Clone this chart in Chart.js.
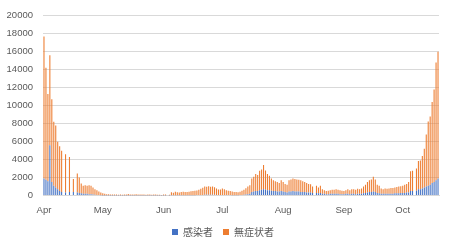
<!DOCTYPE html>
<html>
<head>
<meta charset="utf-8">
<script src="https://cdn.jsdelivr.net/npm/chart.js@4.4.1/dist/chart.umd.min.js"></script>
<style>
  html, body { margin: 0; padding: 0; background: #fff; }
  #wrap { width: 451px; height: 249px; position: relative; }
</style>
</head>
<body>
<div id="wrap"><canvas id="chart"></canvas></div>
<script>
// Daily counts, Apr 1 – Oct 19 (0 = no report that day)
const monthNames = ["Apr", "May", "Jun", "Jul", "Aug", "Sep", "Oct"];
const monthDays  = [30, 31, 30, 31, 31, 30, 19];

// 感染者
const aprInfected = [1900,1750,1600,5600,1500,1100,900,700,500,400,0,350,0,400,0,400,0,350,300,250,200,200,200,150,150,120,100,80,60,50];
const mayInfected = [20,20,15,15,10,10,10,10,10,10,10,10,10,15,10,10,10,10,10,10,10,10,10,10,10,10,10,10,10,10,10];
const junInfected = [10,10,0,10,30,30,40,30,30,40,40,40,40,40,50,50,50,60,60,70,80,90,90,100,90,100,90,80,70,70];
const julInfected = [80,80,70,60,60,50,50,50,50,60,80,100,130,150,200,400,450,500,500,600,650,700,650,600,600,550,500,500,450,450,500];
const augInfected = [450,400,350,450,450,500,450,450,450,400,400,400,350,350,350,300,0,300,250,300,200,200,150,150,200,200,200,200,200,150,150];
const sepInfected = [150,200,200,150,200,200,150,200,200,200,250,300,350,400,400,450,400,300,250,200,200,200,200,200,200,200,250,250,250,300];
const octInfected = [300,300,350,350,500,500,0,550,700,700,800,900,1000,1100,1200,1400,1500,1700,1900];

// 無症状者
const aprAsymptomatic = [15800,12450,9700,10000,9200,7100,6900,5300,5000,4600,0,4250,0,3900,0,1450,0,2100,1700,1100,900,950,900,1000,950,780,600,520,390,300];
const mayAsymptomatic = [230,180,140,130,110,100,110,100,90,100,90,110,120,150,110,120,100,130,110,100,120,100,90,110,100,90,100,110,90,80,70];
const junAsymptomatic = [120,100,0,90,330,300,380,350,320,360,380,350,370,400,420,450,480,520,600,680,800,910,900,950,900,920,850,700,600,600];
const julAsymptomatic = [720,620,530,490,440,400,360,340,320,360,450,560,700,850,950,1500,1650,1900,1800,2150,2250,2700,2150,1800,1600,1350,1200,1100,1050,950,1200];
const augAsymptomatic = [1050,900,850,1250,1350,1400,1400,1350,1300,1300,1200,1100,1050,950,900,700,0,800,650,800,500,400,350,400,400,450,450,500,450,450,400];
const sepAsymptomatic = [350,400,500,450,500,500,500,550,500,600,750,900,1150,1300,1400,1650,1400,900,850,600,500,600,550,600,650,650,650,700,750,750];
const octAsymptomatic = [800,900,950,1150,2200,2250,0,2450,3150,3200,3600,4300,5800,7150,7600,9000,10300,13100,14100];

const infected = [].concat(aprInfected, mayInfected, junInfected, julInfected, augInfected, sepInfected, octInfected);
const asymptomatic = [].concat(aprAsymptomatic, mayAsymptomatic, junAsymptomatic, julAsymptomatic, augAsymptomatic, sepAsymptomatic, octAsymptomatic);

// category labels: one per day, month name shown on day 1
const labels = [];
monthNames.forEach((m, i) => {
  for (let d = 1; d <= monthDays[i]; d++) labels.push(m + " " + d);
});

const GREY_TEXT = "#595959";
const GRID = "#d9d9d9";

new Chart(document.getElementById("chart"), {
  type: "bar",
  data: {
    labels: labels,
    datasets: [
      {
        label: "感染者",
        data: infected,
        backgroundColor: "#4472c4",
        barPercentage: 0.55,
        categoryPercentage: 1.0
      },
      {
        label: "無症状者",
        data: asymptomatic,
        backgroundColor: "#ed7d31",
        barPercentage: 0.55,
        categoryPercentage: 1.0
      }
    ]
  },
  options: {
    responsive: true,
    maintainAspectRatio: false,
    animation: false,
    layout: { padding: { left: 7, right: 12, top: 8, bottom: 2 } },
    scales: {
      x: {
        stacked: true,
        grid: { display: false },
        border: { color: GRID },
        ticks: {
          autoSkip: false,
          maxRotation: 0,
          minRotation: 0,
          padding: 1,
          color: GREY_TEXT,
          font: { family: "Liberation Sans", size: 9.5 },
          callback: function (value) {
            const l = labels[value];
            return l.endsWith(" 1") ? l.split(" ")[0] : "";
          }
        }
      },
      y: {
        stacked: true,
        min: 0,
        max: 20000,
        afterFit: scale => { scale.width = 36; },
        ticks: {
          stepSize: 2000,
          padding: 10,
          color: GREY_TEXT,
          font: { family: "Liberation Sans", size: 9.5 },
          callback: v => String(v)
        },
        grid: { color: GRID, drawTicks: false },
        border: { display: false }
      }
    },
    plugins: {
      legend: {
        position: "bottom",
        labels: {
          boxWidth: 6,
          boxHeight: 6,
          padding: 10,
          color: GREY_TEXT,
          font: { family: "Noto Sans CJK JP", size: 10 }
        }
      },
      tooltip: { enabled: false }
    }
  }
});
</script>
</body>
</html>
